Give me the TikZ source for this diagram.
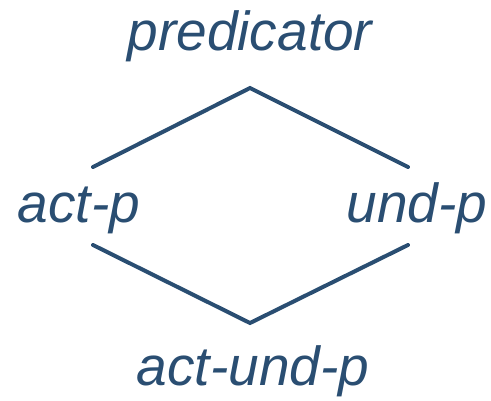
\documentclass[tikz,border=0pt]{standalone}
\usepackage{fontspec}
\setmainfont{Liberation Sans}
\usepackage{xcolor}
\usepackage{tikz}

\definecolor{typeblue}{HTML}{2A4E72}

\tikzset{
	typename/.style={text=typeblue, anchor=base, inner sep=0pt, font=\fontsize{55}{60}\selectfont\itshape},
	isa/.style={draw=typeblue, line width=4pt, line cap=round, line join=miter}
}

\begin{document}
\begin{tikzpicture}[x=1pt, y=-1pt]
			\useasboundingbox (0,0) rectangle (491,400);
			\node[typename](pred) at (250,50) {predicator};
			\node[typename](act) at (79,222) {act-p};
			\node[typename](und) at (417,222) {und-p};
			\node[typename](actund) at (253,385) {act-und-p};
			% ends of the lines around the types
			\coordinate(predbelow) at (250,88);
			\coordinate(actabove) at (93,167);
			\coordinate(undabove) at (408,167);
			\coordinate(actbelow) at (93,245);
			\coordinate(undbelow) at (408,245);
			\coordinate(actundabove) at (250,323);
			\draw[isa] (actabove) -- (predbelow) -- (undabove);
			\draw[isa] (actbelow) -- (actundabove) -- (undbelow);
		\end{tikzpicture}
\end{document}
